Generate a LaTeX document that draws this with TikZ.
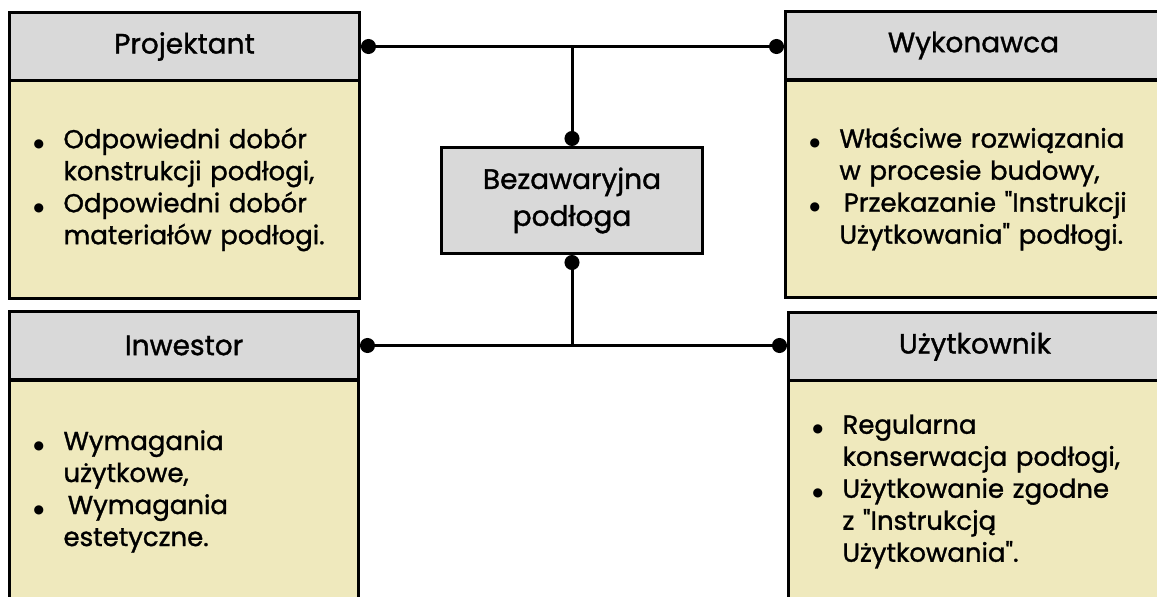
\documentclass[tikz,border=0pt]{standalone}
\usepackage{fontspec}
\setmainfont{Poppins}[Ligatures=TeXOff, UprightFeatures={FakeBold=1.2}]
\newfontfamily\symfont{DejaVu Sans}
\usetikzlibrary{arrows.meta}
\definecolor{headgray}{RGB}{217,217,217}
\definecolor{notecream}{RGB}{239,233,189}

% bullet item and continuation line inside the note bodies
\newcommand\itm{\makebox[30pt][l]{\raisebox{1pt}{\symfont\fontsize{12}{12}\selectfont ●}}}
\newcommand\cnt{\hspace*{30pt}}

\tikzset{
  card/.style={draw=black, line width=3pt, rectangle, anchor=north west, inner sep=0pt},
  cardhead/.style={card, fill=headgray, minimum height=68pt, font=\fontsize{28}{30}\selectfont},
  cardbody/.style={card, fill=notecream, align=left, inner xsep=24pt,
    font=\fontsize{26}{32}\selectfont},
  centerbox/.style={card, fill=headgray, align=center, minimum width=261pt, minimum height=106pt,
    font=\fontsize{28}{37}\selectfont},
  link/.style={line width=3pt, draw=black},
  dot/.tip={Circle[length=15pt]}
}

\begin{document}
\begin{tikzpicture}[x=1pt, y=-1pt]
\useasboundingbox (0,0) rectangle (1157,597);
\clip (0,0) rectangle (1157,597);

% Projektant
\node[cardhead, minimum width=350pt] (proj) at (8,11) {Projektant};
\node[cardbody, minimum height=218pt, text width=302pt] (projb) at (8,79)
  {\itm Odpowiedni dobór\\ \cnt konstrukcji podłogi,\\ \itm Odpowiedni dobór\\ \cnt materiałów podłogi.};

% Wykonawca
\node[cardhead, minimum width=376pt] (wyk) at (784,10) {Wykonawca};
\node[cardbody, minimum height=217pt, text width=328pt] (wykb) at (784,79)
  {\itm Właściwe rozwiązania\\ \cnt w procesie budowy,\\ \itm \,Przekazanie "Instrukcji\\ \cnt Użytkowania" podłogi.};

% Inwestor
\node[cardhead, minimum width=349pt] (inw) at (8,310) {Inwestor};
\node[cardbody, minimum height=222pt, text width=301pt] (inwb) at (8,379)
  {\itm Wymagania\\ \cnt użytkowe,\\ \itm \,Wymagania\\ \cnt estetyczne.};

% Użytkownik
\node[cardhead, minimum width=373pt] (uzy) at (787,311) {Użytkownik};
\node[cardbody, minimum height=222pt, text width=325pt] (uzyb) at (787,379)
  {\itm Regularna\\ \cnt konserwacja podłogi,\\ \itm Użytkowanie zgodne\\ \cnt z "Instrukcją\\ \cnt Użytkowania".};

% centre
\node[centerbox] (goal) at (440,146) {Bezawaryjna\\podłoga};

% connectors
\coordinate (jtop) at (goal.north |- proj.east);
\coordinate (jbot) at (goal.south |- inw.east);
\draw[link, dot-dot] (proj.east) -- (proj.east -| wyk.west);
\draw[link, -dot] (jtop) -- (goal.north);
\draw[link, dot-dot] (inw.east) -- (inw.east -| uzy.west);
\draw[link, -dot] (jbot) -- (goal.south);
\end{tikzpicture}
\end{document}
